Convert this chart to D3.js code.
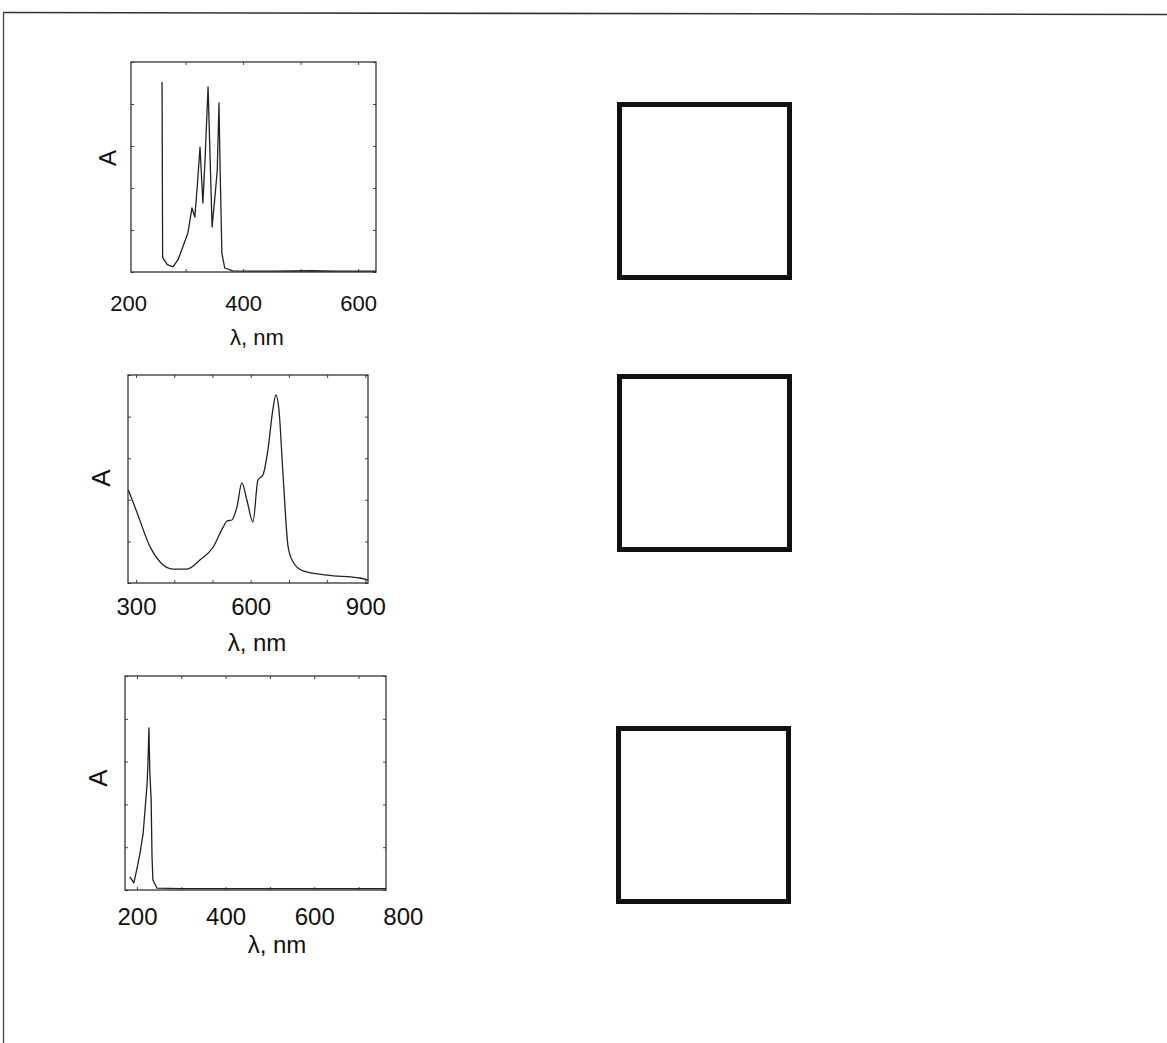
<!DOCTYPE html>
<html>
<head>
<meta charset="utf-8">
<script src="https://cdn.jsdelivr.net/npm/d3@7"></script>
<style>
  html, body { margin: 0; padding: 0; background: #fff; }
  svg { display: block; }
  text { font-family: "Liberation Sans", Arial, sans-serif; fill: #111; }
</style>
</head>
<body>
<svg id="chart" width="1167" height="1043"></svg>
<script>
// ---- Data ----
// Panel 1 spectrum
const spec1Wavelength = [259, 260, 268, 278, 287, 295, 304, 311, 316, 320, 325, 330, 334, 339, 346, 351, 355, 358, 360, 363, 368, 382, 450, 520, 560, 631];
const spec1Absorb     = [0.905, 0.07, 0.035, 0.024, 0.06, 0.119, 0.186, 0.305, 0.262, 0.40, 0.595, 0.329, 0.55, 0.881, 0.214, 0.36, 0.486, 0.805, 0.486, 0.09, 0.019, 0.005, 0.004, 0.006, 0.004, 0.004];
const spec1Ticks = [200, 400, 600];

// Panel 2 spectrum
const spec2Wavelength = [280, 303, 337, 363, 397, 433, 467, 502, 528, 538, 551, 564, 577, 590, 606, 619, 632, 645, 659, 666, 674, 685, 698, 711, 737, 800, 886, 907];
const spec2Absorb     = [0.447, 0.337, 0.173, 0.101, 0.067, 0.067, 0.11, 0.173, 0.269, 0.298, 0.303, 0.365, 0.481, 0.399, 0.293, 0.495, 0.519, 0.639, 0.846, 0.904, 0.832, 0.51, 0.173, 0.101, 0.058, 0.038, 0.024, 0.014];
const spec2Ticks = [300, 600, 900];

// Panel 3 spectrum
const spec3Wavelength = [184, 193, 200, 207, 214, 220, 223, 225, 227, 229, 232, 234, 236, 245, 300, 500, 762];
const spec3Absorb     = [0.061, 0.033, 0.10, 0.173, 0.266, 0.421, 0.50, 0.607, 0.757, 0.55, 0.421, 0.154, 0.047, 0.009, 0.006, 0.006, 0.006];
const spec3Ticks = [200, 400, 600, 800];

const axisTitleX = "λ, nm";
const axisTitleY = "A";

// ---- Drawing ----
const svg = d3.select("#chart");

// outer page frame (top and left edges visible)
svg.append("line").attr("x1", 3).attr("y1", 12.5).attr("x2", 1167).attr("y2", 14.5)
  .attr("stroke", "#333").attr("stroke-width", 1.6);
svg.append("line").attr("x1", 3.5).attr("y1", 12).attr("x2", 3.5).attr("y2", 1043)
  .attr("stroke", "#444").attr("stroke-width", 1.3);

const panels = [
  { xs: spec1Wavelength, ys: spec1Absorb, ticks: spec1Ticks, xDom: [205, 631],
    left: 131, right: 376, top: 62, bottom: 272, font: 22,
    tickY: 311, titleY: 345, titleX: 257, aX: 107, aY: 158, curve: d3.curveLinear },
  { xs: spec2Wavelength, ys: spec2Absorb, ticks: spec2Ticks, xDom: [279, 907],
    left: 128, right: 368, top: 375, bottom: 583, font: 24,
    tickY: 615, titleY: 651, titleX: 257, aX: 101, aY: 478, curve: d3.curveMonotoneX },
  { xs: spec3Wavelength, ys: spec3Absorb, ticks: spec3Ticks, xDom: [173, 762],
    left: 125, right: 386, top: 676, bottom: 890, font: 24,
    tickY: 925, titleY: 953, titleX: 277, aX: 98, aY: 778, curve: d3.curveLinear }
];

panels.forEach(p => {
  const x = d3.scaleLinear().domain(p.xDom).range([p.left, p.right]);
  const y = d3.scaleLinear().domain([0, 1]).range([p.bottom, p.top]);
  const g = svg.append("g");

  // minor inward ticks on all sides
  const yt = y.ticks(6);
  g.append("g").attr("transform", `translate(${p.left},0)`)
    .call(d3.axisLeft(y).tickValues(yt).tickSize(-3).tickFormat(""))
    .call(s => s.select(".domain").remove())
    .call(s => s.selectAll("line").attr("stroke", "#444"));
  g.append("g").attr("transform", `translate(${p.right},0)`)
    .call(d3.axisRight(y).tickValues(yt).tickSize(-3).tickFormat(""))
    .call(s => s.select(".domain").remove())
    .call(s => s.selectAll("line").attr("stroke", "#444"));
  const xt = x.ticks(6).filter(v => v >= p.xDom[0] && v <= p.xDom[1]);
  g.append("g").attr("transform", `translate(0,${p.bottom})`)
    .call(d3.axisBottom(x).tickValues(xt).tickSize(-3).tickFormat(""))
    .call(s => s.select(".domain").remove())
    .call(s => s.selectAll("line").attr("stroke", "#444"));
  g.append("g").attr("transform", `translate(0,${p.top})`)
    .call(d3.axisTop(x).tickValues(xt).tickSize(-3).tickFormat(""))
    .call(s => s.select(".domain").remove())
    .call(s => s.selectAll("line").attr("stroke", "#444"));

  // frame
  g.append("rect")
    .attr("x", p.left).attr("y", p.top)
    .attr("width", p.right - p.left).attr("height", p.bottom - p.top)
    .attr("fill", "none").attr("stroke", "#333").attr("stroke-width", 1.3);

  // x tick labels
  const lab = g.append("g").attr("transform", `translate(0,${p.tickY})`)
    .call(d3.axisBottom(x).tickValues(p.ticks).tickSize(0).tickPadding(0).tickFormat(d3.format("d")));
  lab.select(".domain").remove();
  lab.selectAll("text")
    .attr("dy", "0")
    .attr("font-size", p.font)
    .attr("font-family", "Liberation Sans, Arial, sans-serif")
    .attr("fill", "#111");

  // axis titles
  g.append("text").attr("x", p.titleX).attr("y", p.titleY)
    .attr("text-anchor", "middle").attr("font-size", p.font).text(axisTitleX);
  g.append("text")
    .attr("transform", `translate(${p.aX},${p.aY}) rotate(-90)`)
    .attr("text-anchor", "middle").attr("dominant-baseline", "central")
    .attr("font-size", p.font + 2).text(axisTitleY);

  // spectrum
  const pts = p.xs.map((v, i) => [v, p.ys[i]]);
  g.append("path")
    .datum(pts)
    .attr("fill", "none")
    .attr("stroke", "#222")
    .attr("stroke-width", 1.3)
    .attr("stroke-linejoin", "round")
    .attr("d", d3.line().x(d => x(d[0])).y(d => y(d[1])).curve(p.curve));
});

// empty squares at the right
const squareTops = [102, 374, 726];
const squareSize = 175;
const squareLeft = [617, 617, 616];
svg.append("g").selectAll("rect")
  .data(squareTops)
  .join("rect")
  .attr("x", (d, i) => squareLeft[i] + 2.5)
  .attr("y", d => d + 2.5)
  .attr("width", squareSize - 5)
  .attr("height", d => squareSize - 2)
  .attr("fill", "none")
  .attr("stroke", "#111")
  .attr("stroke-width", 5);
</script>
</body>
</html>
